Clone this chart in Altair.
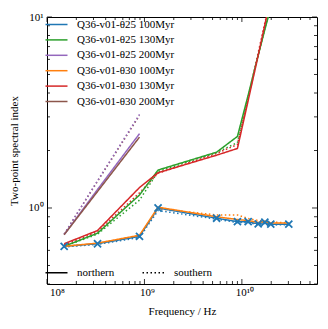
import altair as alt
import pandas as pd

# ---------------- data ----------------
freqs = [1.5e8, 3.3e8, 8.9e8, 1.38e9, 5.5e9, 9.0e9, 1.16e10, 1.47e10, 1.72e10, 1.98e10, 3.03e10]

series_names = [
    "Q36-v01-θ25 100Myr",
    "Q36-v01-θ25 130Myr",
    "Q36-v01-θ25 200Myr",
    "Q36-v01-θ30 100Myr",
    "Q36-v01-θ30 130Myr",
    "Q36-v01-θ30 200Myr",
]
series_colors = ["#1f77b4", "#2ca02c", "#9467bd", "#ff7f0e", "#d62728", "#8c564b"]

# northern (solid)
n_t25_100 = [0.63, 0.65, 0.71, 1.00, 0.884, 0.848, 0.848, 0.825, 0.842, 0.823, 0.823]
n_t25_130 = [0.63, 0.738, 1.17, 1.58, 1.96, 2.37, 3.9, 6.3, 8.6, 11.2, 18.0]
n_t25_200 = [0.725, 1.25, 2.45]
n_t30_100 = [0.63, 0.655, 0.72, 1.01, 0.90, 0.87, 0.86, 0.84, 0.85, 0.835, 0.835]
n_t30_130 = [0.65, 0.762, 1.28, 1.53, 1.89, 2.05, 3.65, 6.3, 9.1, 12.7, 20.0]
n_t30_200 = [0.725, 1.22, 2.35]

# southern (dotted)
s_t25_100 = [0.625, 0.645, 0.70, 0.97, 0.875, 0.838, 0.84, 0.818, 0.832, 0.815, 0.818]
s_t25_130 = [0.63, 0.73, 1.10, 1.55, 1.95, 2.20, 3.8, 6.2, 8.7, 11.5, 19.0]
s_t25_200 = [0.73, 1.39, 3.09]
s_t30_100 = [0.63, 0.65, 0.715, 0.99, 0.92, 0.92, 0.88, 0.86, 0.85, 0.845, 0.835]
s_t30_130 = [0.64, 0.75, 1.20, 1.52, 1.93, 2.15, 3.8, 6.5, 9.3, 12.5, 20.0]
s_t30_200 = [0.73, 1.38, 3.05]

regions = ["northern", "southern"]

x_major = [1e8, 1e9, 1e10]
x_minor = [2e8, 3e8, 4e8, 5e8, 6e8, 7e8, 8e8, 9e8,
           2e9, 3e9, 4e9, 5e9, 6e9, 7e9, 8e9, 9e9,
           2e10, 3e10, 4e10, 5e10]
y_major = [1, 10]
y_minor = [0.4, 0.5, 0.6, 0.7, 0.8, 0.9, 2, 3, 4, 5, 6, 7, 8, 9]

# ---------------- tables ----------------
def table(series, region, vals):
    return pd.DataFrame({"freq": freqs[:len(vals)], "index": vals,
                         "series": series, "region": region})

south_df = pd.concat([
    table(series_names[5], "southern", s_t30_200),
    table(series_names[0], "southern", s_t25_100),
    table(series_names[1], "southern", s_t25_130),
    table(series_names[3], "southern", s_t30_100),
    table(series_names[4], "southern", s_t30_130),
    table(series_names[2], "southern", s_t25_200),
], ignore_index=True)

north_df = pd.concat([
    table(series_names[0], "northern", n_t25_100),
    table(series_names[1], "northern", n_t25_130),
    table(series_names[2], "northern", n_t25_200),
    table(series_names[3], "northern", n_t30_100),
    table(series_names[4], "northern", n_t30_130),
    table(series_names[5], "northern", n_t30_200),
], ignore_index=True)

cross_df = table(series_names[0], "northern", n_t25_100)

W, H = 270, 267
FONT = "Liberation Serif"

x_scale = alt.Scale(type="log", domain=[1e8, 5.9e10], nice=False)
y_scale = alt.Scale(type="log", domain=[0.4, 10], nice=False)

x_axis = alt.Axis(values=x_major, title="Frequency / Hz",
                  labelExpr="datum.value == 1e8 ? '10⁸' : (datum.value == 1e9 ? '10⁹' : '10¹⁰')",
                  labelOffset=2.5, labelPadding=2, titlePadding=8)
y_axis = alt.Axis(values=y_major, title="Two-point spectral index",
                  labelExpr="datum.value == 1 ? '10⁰' : '10¹'",
                  labelPadding=4, titlePadding=9)

X = alt.X("freq:Q", scale=x_scale, axis=x_axis)
Y = alt.Y("index:Q", scale=y_scale, axis=y_axis)

color_enc = alt.Color("series:N", scale=alt.Scale(domain=series_names, range=series_colors),
                      legend=alt.Legend(title=None, orient="none", legendX=4, legendY=2,
                                        direction="vertical", symbolType="M-2.75,0H2.75",
                                        symbolSize=64, symbolStrokeWidth=1.5,
                                        labelFont=FONT, labelFontSize=11, labelColor="black",
                                        labelOffset=15, rowPadding=3.4, padding=0))
dash_enc = alt.StrokeDash("region:N", scale=alt.Scale(domain=regions, range=[[1, 0], [1.5, 2.5]]),
                          legend=alt.Legend(title=None, orient="none", legendX=4, legendY=250,
                                            direction="horizontal", symbolType="M-2.75,0H2.75",
                                            symbolSize=64, symbolStrokeWidth=1.5,
                                            symbolStrokeColor="black",
                                            labelFont=FONT, labelFontSize=11, labelColor="black",
                                            labelOffset=15, columnPadding=24, padding=0))

def lines(df):
    return alt.Chart(df).mark_line(strokeWidth=1.5, clip=True).encode(
        x=X, y=Y, color=color_enc, strokeDash=dash_enc, detail="series:N",
    )

crosses = alt.Chart(cross_df).mark_point(shape="M-1,-1L1,1M-1,1L1,-1", size=50,
                                         filled=False, strokeWidth=1.8,
                                         color="#1f77b4", opacity=1).encode(x=X, y=Y)

def xticks(vals, length):
    d = pd.DataFrame({"freq": vals})
    base = alt.Chart(d).mark_rule(color="black", strokeWidth=0.8)
    b = base.encode(x=X, y=alt.value(H), y2=alt.value(H - length))
    t = base.encode(x=X, y=alt.value(0), y2=alt.value(length))
    return [b, t]

def yticks(vals, length):
    d = pd.DataFrame({"index": vals})
    base = alt.Chart(d).mark_rule(color="black", strokeWidth=0.8)
    l = base.encode(y=Y, x=alt.value(0), x2=alt.value(length))
    r = base.encode(y=Y, x=alt.value(W), x2=alt.value(W - length))
    return [l, r]

layers = [lines(south_df), lines(north_df), crosses]
layers += xticks(x_major, 5) + xticks(x_minor, 3) + yticks(y_major, 5) + yticks(y_minor, 3)

chart = alt.layer(*layers).properties(
    width=W, height=H,
    padding={"left": 0, "top": 3, "right": 2, "bottom": 2},
).configure_axis(
    labelFont=FONT, titleFont=FONT, labelFontSize=11, titleFontSize=11,
    titleFontWeight="normal", labelColor="black", titleColor="black",
    grid=False, domain=False, ticks=False,
).configure_view(stroke="black", strokeWidth=1)

chart.save("out.html", embed_options={"renderer": "svg", "actions": False})
